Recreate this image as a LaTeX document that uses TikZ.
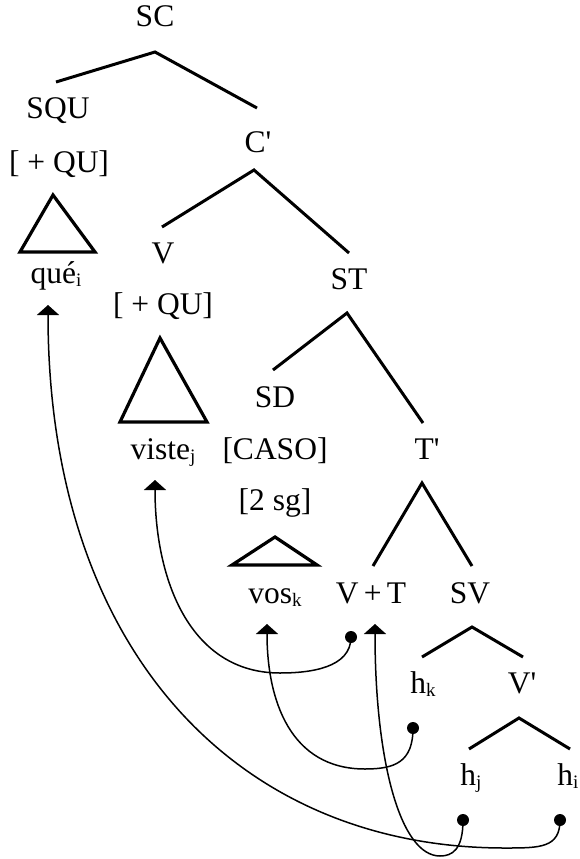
\documentclass[tikz,border=0pt]{standalone}
\usepackage{fontspec}
\setmainfont{Liberation Serif}
\usetikzlibrary{arrows.meta}
\newcommand\lsub[1]{\raisebox{-3.5pt}{\fontsize{19}{19}\selectfont #1}}
\newcommand\prm{\textquotesingle}
\begin{document}
\begin{tikzpicture}[x=1pt,y=-1pt,
  lbl/.style={anchor=base,inner sep=0pt,font=\fontsize{31.5}{36}\selectfont},
  branch/.style={line width=3pt,line join=miter},
  tri/.style={line width=3.2pt,line join=miter},
  move/.style={line width=1.5pt,-{Triangle[width=22pt,length=10pt]}},
  dotn/.style={circle,fill,inner sep=0pt,minimum size=12pt}]
\useasboundingbox (0,0) rectangle (580,859);
% labels
\node[lbl] (SC) at (155,27) {SC};
\node[lbl] (SQU) at (58,118) {SQU};
\node[lbl] (qu1) at (59,172) {[ + QU]};
\node[lbl] (que) at (56,283) {qué\lsub{i}};
\node[lbl] (C) at (258,152) {C\prm};
\node[lbl] (V) at (163,263) {V};
\node[lbl] (qu2) at (163,314) {[ + QU]};
\node[lbl] (viste) at (163,459) {viste\lsub{j}};
\node[lbl] (ST) at (349,289) {ST};
\node[lbl] (SD) at (275,407) {SD};
\node[lbl] (caso) at (275,459) {[CASO]};
\node[lbl] (sg) at (275,510) {[2 sg]};
\node[lbl] (vos) at (275,603) {vos\lsub{k}};
\node[lbl] (T) at (427,459) {T\prm};
\node[lbl] (VT) at (371,603) {V\,+\,T};
\node[lbl] (SV) at (470,603) {SV};
\node[lbl] (hk) at (423,693) {h\lsub{k}};
\node[lbl] (Vp) at (522,693) {V\prm};
\node[lbl] (hj) at (471,785) {h\lsub{j}};
\node[lbl] (hi) at (568,785) {h\lsub{i}};
% branch coordinates
\coordinate (scL) at (56,82);  \coordinate (scA) at (155,52);  \coordinate (scR) at (257,108);
\coordinate (cL) at (162,227); \coordinate (cA) at (254,170);  \coordinate (cR) at (349,253);
\coordinate (stL) at (273,370);\coordinate (stA) at (347,313); \coordinate (stR) at (423,423);
\coordinate (tL) at (373,566); \coordinate (tA) at (422,483);  \coordinate (tR) at (472,566);
\coordinate (svL) at (422,657);\coordinate (svA) at (472,627); \coordinate (svR) at (523,657);
\coordinate (vL) at (469,749); \coordinate (vA) at (519,718);  \coordinate (vR) at (570,749);
\draw[branch] (scL) -- (scA) -- (scR);
\draw[branch] (cL) -- (cA) -- (cR);
\draw[branch] (stL) -- (stA) -- (stR);
\draw[branch] (tL) -- (tA) -- (tR);
\draw[branch] (svL) -- (svA) -- (svR);
\draw[branch] (vL) -- (vA) -- (vR);
% triangles
\coordinate (q1A) at (53,195); \coordinate (q1L) at (20,252); \coordinate (q1R) at (95,252);
\coordinate (q2A) at (160,338); \coordinate (q2L) at (120,422); \coordinate (q2R) at (207,422);
\coordinate (q3A) at (275,537); \coordinate (q3L) at (232,565); \coordinate (q3R) at (317,565);
\draw[tri] (q1A) -- (q1L) -- (q1R) -- cycle;
\draw[tri] (q2A) -- (q2L) -- (q2R) -- cycle;
\draw[tri] (q3A) -- (q3L) -- (q3R) -- cycle;
% dots and tips
\node[dotn] (dV) at (351,637) {};
\node[dotn] (dk) at (413,728) {};
\node[dotn] (dj) at (463,820) {};
\node[dotn] (di) at (560,820) {};
\coordinate (tq) at (48,305);
\coordinate (tv) at (155,480);
\coordinate (tk) at (267,624);
\coordinate (tvt) at (375,624);
\coordinate (b1) at (505,848);
\coordinate (b2) at (280,673);
\coordinate (b3) at (365,769);
\coordinate (b4) at (440,856);
% movement arrows
\draw[move] (di.center) .. controls (560,848) and (540,848) .. (b1) .. controls (235,848) and (48,648) .. (tq);
\draw[move] (dV.center) .. controls (351,668) and (310,673) .. (b2) .. controls (190,673) and (155,580) .. (tv);
\draw[move] (dk.center) .. controls (413,762) and (395,769) .. (b3) .. controls (290,769) and (267,700) .. (tk);
\draw[move] (dj.center) .. controls (463,850) and (452,856) .. (b4) .. controls (400,856) and (375,760) .. (tvt);
\end{tikzpicture}
\end{document}
